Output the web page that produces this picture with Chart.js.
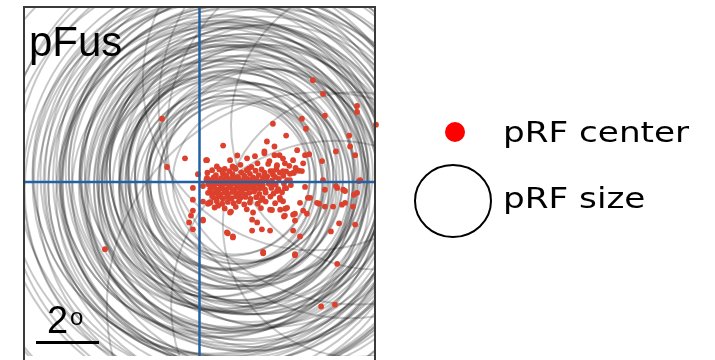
<!DOCTYPE html>
<html><head><meta charset="utf-8">
<script src="https://cdn.jsdelivr.net/npm/chart.js@4.4.1/dist/chart.umd.min.js"></script>
<style>html,body{margin:0;padding:0;background:#fff;overflow:hidden}#wrap{width:715px;height:360px}</style>
</head><body><div id="wrap"><canvas id="c" width="715" height="360"></canvas></div>
<script>
// ---- text ----
const panelLabel = 'pFus';
const scaleBarDeg = 2;
const scaleBarText = '2';
const scaleBarSup = 'o';
const legendLabels = ['pRF center', 'pRF size'];
// ---- axis ranges (degrees of visual angle) ----
const xRange = [-5.57, 5.57];
const yRange = [-5.59, 5.62];
// ---- pRF centers (deg) ----
const centerX = [
-1.19,-3.00,-1.03,-0.46,3.60,3.92,5.00,5.00,3.98,5.60,3.25,2.33,3.38,2.75,4.75,2.14,0.75,4.78,4.33,4.94,3.89,3.10,3.35,3.92,5.06,4.33,4.56,4.90,3.51,3.79,3.98,4.24,4.52,3.29,4.43,4.94,4.17,3.19,2.97,2.71,2.97,2.24,2.02,3.03,4.37,3.86,4.30,0.90,1.06,-0.21,-0.21,-0.27,-0.33,-0.21,0.30,0.59,-0.21,
1.51,2.06,1.84,2.22,2.38,0.97,0.24,1.76,2.71,2.97,3.29,2.54,2.38,2.06,1.30,1.05,0.55,1.65,2.45,2.85,3.05,1.20,2.65,
0.25,0.40,0.52,0.63,0.74,0.86,0.95,1.05,1.14,1.22,1.33,1.42,1.50,1.60,1.70,1.78,1.88,1.97,2.06,2.15,2.25,2.33,2.44,2.55,2.66,2.75,2.87,3.00,3.15,0.45,0.80,1.10,1.56,2.02,2.40,
0.22,0.36,0.50,0.62,0.75,0.88,1.00,1.12,1.25,1.38,1.52,1.66,1.80,1.95,2.12,2.30,2.52,2.78,
0.28,0.42,0.55,0.68,0.80,0.93,1.06,1.18,1.31,1.45,1.58,1.72,1.86,2.01,2.20,2.42,2.68,2.90,
0.34,0.47,0.60,0.72,0.85,0.98,1.10,1.23,1.36,1.49,1.63,1.77,1.92,2.08,2.28,2.50,2.75,
0.40,0.53,0.66,0.79,0.91,1.04,1.17,1.30,1.44,1.58,1.73,1.90,2.10,2.35,2.62,
0.45,0.60,0.74,0.88,1.02,1.16,1.30,1.46,1.62,1.80,2.00,2.25,2.55,
0.35,0.55,0.72,0.90,1.08,1.25,1.42,1.60,1.85,2.10,2.40,2.65,0.48,0.80,1.15,1.50,1.95,2.30,2.72,1.00,1.70,
0.11,0.33,0.97,1.67,1.83,2.24,2.56,1.67,1.98,0.87,1.06,2.02,3.03,
0.21,-0.05,0.24,0.27,0.11,0.11,0.27,0.11,
2.33,2.65,2.97,3.25,2.46,2.87,2.30,2.46,2.71,3.35,4.37,4.62,3.98,5.10,5.00,2.56,3.19,3.44,3.73,4.62,4.87,2.78,3.03,3.41,2.68,3.03,3.48,
0.55,0.85,1.25,1.58,1.95,0.68,1.40,1.12,0.40,2.18
];
const centerY = [
2.03,-2.16,0.48,0.76,3.27,2.83,2.44,2.25,2.13,1.84,2.03,1.87,1.71,1.49,1.49,1.30,1.17,1.14,0.98,0.86,0.67,1.02,0.86,0.06,0.03,-0.13,-0.25,-0.41,-0.51,-0.70,-0.79,-0.79,-0.73,-0.92,-1.33,-1.37,-1.59,-1.75,-1.56,-1.08,-1.05,-1.56,-2.29,-2.35,-2.63,-4.00,-3.94,-1.65,-1.75,-0.57,-0.92,-1.08,-1.30,-1.52,-0.67,-0.76,-0.19,
0.76,0.92,0.60,0.67,1.14,0.70,0.70,0.83,0.60,0.70,0.60,0.86,0.86,0.98,0.55,0.50,0.50,0.48,0.50,0.52,0.45,0.85,0.75,
0.30,0.38,0.22,0.40,0.28,0.18,0.35,0.25,0.42,0.16,0.31,0.20,0.38,0.26,0.15,0.36,0.22,0.40,0.30,0.18,0.35,0.24,0.40,0.30,0.20,0.34,0.26,0.30,0.36,0.15,0.42,0.14,0.43,0.14,0.16,
0.08,0.06,0.10,0.04,0.09,0.05,0.10,0.03,0.08,0.04,0.10,0.05,0.09,0.03,0.08,0.05,0.10,0.06,
-0.07,-0.10,-0.05,-0.11,-0.06,-0.09,-0.04,-0.10,-0.06,-0.09,-0.05,-0.11,-0.07,-0.10,-0.06,-0.09,-0.05,-0.10,
-0.22,-0.19,-0.25,-0.20,-0.24,-0.18,-0.23,-0.19,-0.25,-0.21,-0.18,-0.24,-0.20,-0.25,-0.19,-0.23,-0.20,
-0.36,-0.33,-0.39,-0.34,-0.38,-0.32,-0.37,-0.34,-0.40,-0.35,-0.31,-0.38,-0.34,-0.37,-0.33,
-0.50,-0.47,-0.53,-0.48,-0.52,-0.46,-0.51,-0.48,-0.54,-0.49,-0.52,-0.47,-0.50,
-0.65,-0.62,-0.70,-0.64,-0.68,-0.62,-0.72,-0.66,-0.70,-0.63,-0.68,-0.62,-0.82,-0.85,-0.80,-0.88,-0.84,-0.90,-0.86,-0.95,-0.98,
-1.21,-0.67,-0.98,-1.21,-1.30,-0.89,-0.89,-1.56,-1.52,-1.62,-1.78,-2.25,-2.32,
0.70,0.25,0.13,-0.35,-0.13,-0.63,-0.70,-1.24,
0.35,0.35,0.29,0.35,0.54,0.06,-0.10,-0.29,-0.19,-0.16,-0.19,-0.29,-0.25,0.06,-0.35,-0.57,-0.67,-0.51,-0.67,-0.67,-0.79,-0.83,-1.02,-1.02,-1.11,-1.24,0.89,
-0.28,0.22,-0.42,0.02,-0.58,0.12,-0.15,0.45,-0.45,0.58
];
// ---- pRF sizes: circle centre (deg) and radius (deg) ----
const sizeX = [1.10,0.95,1.30,1.00,1.50,0.80,1.20,1.40,0.70,1.65,1.05,0.90,1.55,1.25,0.60,1.80,1.00,1.35,0.75,1.60,1.15,0.50,2.00,1.30,0.85,1.70,1.05,0.40,2.20,1.45,
0.95,1.25,1.60,0.70,1.90,1.10,0.55,1.40,2.10,0.85,1.20,1.75,0.60,1.50,1.00,2.30,0.45,1.35,0.90,1.65,1.15,0.75,1.85,1.30,0.65,1.55,1.05,2.00,0.50,1.25,
0.90,1.70,1.10,0.35,1.45,0.80,2.15,1.20,0.60,1.60,1.00,1.35,0.70,1.80,1.15,0.45,1.50,0.95,1.25,2.05,0.85,1.40,0.60,1.10,1.20,1.50,0.95,1.75,
5.60,3.60,4.30,3.86,5.00,4.94,4.75];
const sizeY = [0.10,0.20,0.00,-0.10,0.20,0.05,0.30,-0.20,0.25,0.00,-0.30,0.40,-0.10,0.15,-0.05,0.25,0.05,-0.40,0.30,0.35,-0.15,0.10,-0.20,0.45,-0.25,0.10,0.20,-0.15,0.30,0.05,
-0.05,0.35,-0.30,0.10,0.05,-0.45,0.30,0.20,-0.10,0.50,-0.20,0.40,-0.30,0.00,0.15,0.20,0.05,-0.35,0.30,-0.05,0.10,-0.10,0.25,0.05,0.20,-0.25,0.40,0.00,-0.20,0.25,
-0.40,0.15,-0.05,0.15,0.35,0.00,-0.30,0.10,0.35,-0.15,0.25,-0.10,-0.25,0.30,0.05,0.20,-0.35,0.45,-0.05,0.10,0.10,0.30,-0.10,0.20,0.00,0.25,-0.20,0.05,
1.84,3.27,-3.94,-4.00,2.44,-1.37,1.49];
const sizeR = [2.40,2.55,2.60,2.70,2.75,2.85,2.90,2.95,3.00,2.50,3.05,3.15,3.20,3.30,3.35,3.40,3.45,3.55,3.60,3.65,3.70,3.75,3.80,3.85,3.90,3.95,4.00,3.50,3.30,3.10,
4.05,4.10,4.15,4.20,4.25,4.30,4.35,4.40,4.45,4.50,4.55,4.60,4.65,4.70,4.75,4.80,4.85,4.90,4.95,5.00,4.25,4.58,4.12,5.05,5.10,5.15,5.20,5.25,5.30,5.40,
5.45,5.50,5.55,5.60,5.70,5.75,5.80,5.85,5.90,5.95,6.05,6.15,6.25,6.35,6.45,6.55,6.65,6.75,6.85,6.95,7.20,7.60,8.10,8.60,3.75,4.45,5.35,6.10,
4.60,5.40,5.20,6.80,6.30,4.20,5.80];

const centers = centerX.map((x, i) => ({x, y: centerY[i]}));
const sizes = sizeX.map((x, i) => ({x, y: sizeY[i], s: sizeR[i]}));

const decor = {
  id: 'decor',
  afterDatasetsDraw(chart) {
    const {ctx, chartArea: a, scales: {x: xs}} = chart;
    ctx.save();
    // frame (bottom edge lies outside the picture)
    ctx.strokeStyle = '#3a3a3a';
    ctx.lineWidth = 2;
    ctx.beginPath();
    ctx.moveTo(a.left, a.bottom + 5); ctx.lineTo(a.left, a.top); ctx.lineTo(a.right, a.top); ctx.lineTo(a.right, a.bottom + 5);
    ctx.stroke();
    // panel label
    ctx.fillStyle = '#000';
    ctx.textBaseline = 'alphabetic';
    ctx.font = '42px "Liberation Sans", Arial, sans-serif';
    ctx.fillText(panelLabel, 29, 56);
    // scale bar
    const len = xs.getPixelForValue(scaleBarDeg) - xs.getPixelForValue(0);
    ctx.fillRect(36, 341, len, 3);
    ctx.font = '38px "Liberation Sans", Arial, sans-serif';
    ctx.fillText(scaleBarText, 47, 333);
    ctx.font = '24px "Liberation Sans", Arial, sans-serif';
    ctx.fillText(scaleBarSup, 70, 325);
    // legend
    ctx.fillStyle = '#f00';
    ctx.beginPath(); ctx.arc(455, 132, 10, 0, Math.PI * 2); ctx.fill();
    ctx.strokeStyle = '#000'; ctx.lineWidth = 2;
    ctx.beginPath(); ctx.ellipse(453, 201, 38, 36, 0, 0, Math.PI * 2); ctx.stroke();
    ctx.fillStyle = '#000';
    ctx.font = '29px "DejaVu Sans", Verdana, sans-serif';
    ctx.save(); ctx.translate(503, 142); ctx.scale(1.18, 1); ctx.fillText(legendLabels[0], 0, 0); ctx.restore();
    ctx.save(); ctx.translate(503, 208); ctx.scale(1.18, 1); ctx.fillText(legendLabels[1], 0, 0); ctx.restore();
    ctx.restore();
  }
};

new Chart(document.getElementById('c'), {
  type: 'scatter',
  data: {
    datasets: [
      {label: 'horizontal meridian', type: 'line', showLine: true, data: [{x: xRange[0] - 1, y: 0}, {x: xRange[1] + 1, y: 0}],
       borderColor: '#2262a2', borderWidth: 2.5, pointRadius: 0, order: 0, clip: 0},
      {label: 'vertical meridian', type: 'line', showLine: true, data: [{x: 0, y: yRange[0] - 1}, {x: 0, y: yRange[1] + 1}],
       borderColor: '#2262a2', borderWidth: 2.5, pointRadius: 0, order: 0, clip: 0},
      {label: legendLabels[0], data: centers, pointRadius: 2.9, pointBackgroundColor: '#db412d', pointBorderWidth: 0, order: 1, clip: false},
      {label: legendLabels[1], data: sizes, order: 2, clip: 0,
       pointRadius: (c) => {
         const v = c.raw; if (!v) return 0;
         const xs = c.chart.scales.x;
         return Math.abs(xs.getPixelForValue(v.x + v.s) - xs.getPixelForValue(v.x));
       },
       pointBackgroundColor: 'rgba(0,0,0,0)', pointBorderColor: 'rgba(0,0,0,0.22)', pointBorderWidth: 2}
    ]
  },
  options: {
    responsive: false, animation: false, events: [],
    layout: {padding: {left: 24, top: 7, right: 340, bottom: 0}},
    scales: {
      x: {type: 'linear', min: xRange[0], max: xRange[1], display: false},
      y: {type: 'linear', min: yRange[0], max: yRange[1], display: false}
    },
    plugins: {legend: {display: false}, tooltip: {enabled: false}}
  },
  plugins: [decor]
});
</script></body></html>
